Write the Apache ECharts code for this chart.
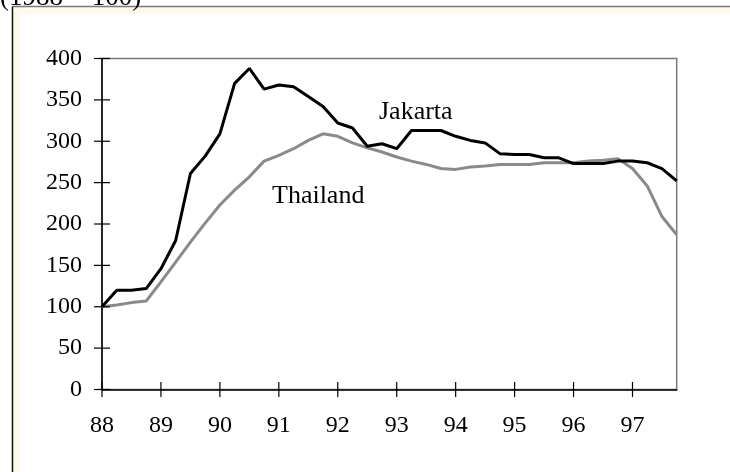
<!DOCTYPE html>
<html>
<head>
<meta charset="utf-8">
<script src="https://cdn.jsdelivr.net/npm/echarts@6/dist/echarts.min.js"></script>
<style>
html,body{margin:0;padding:0;background:#fff;}
#c{width:730px;height:472px;}
</style>
</head>
<body>
<div id="c"></div>
<script>
// Quarterly index, 1988 = 100
const quarters = [];
const years = ['88','89','90','91','92','93','94','95','96','97'];
years.forEach(y => { for (let q = 1; q <= 4; q++) quarters.push(y + 'Q' + q); });

const jakarta = [100,120,120,122,146,180,261,282,309,370,
                 388,363,368,366,354,342,322,316,294,297,
                 291,313,313,313,306,301,298,285,284,284,
                 280,280,273,273,273,276,276,274,267,252];
const thailand = [100,102,105,107,130,154,178,201,223,241,
                  257,276,283,291,301,309,306,298,292,287,
                  281,276,272,267,266,269,270,272,272,272,
                  274,274,274,276,277,279,267,246,209,187];

const yTicks = [0,50,100,150,200,250,300,350,400];
const titleText = '(1988 = 100)';
const seriesNames = ['Jakarta','Thailand'];

const font = '"Liberation Serif","Times New Roman",serif';
const chart = echarts.init(document.getElementById('c'), null, {renderer:'canvas'});

// tick positions taken from the axes themselves (year starts and y tick values)
const xTickData = quarters.map((q, i) => i).filter(i => quarters[i].endsWith('Q1')).map(i => [i, 0]);
const yTickData = yTicks.map(v => [0, v]);

function tickSeries(data, vertical) {
  return {
    type:'custom', data: data, clip:false, silent:true, z:5,
    renderItem: function(params, api) {
      const p = api.coord([api.value(0), api.value(1)]);
      const h = vertical ? 7.5 : 8;
      return {
        type:'line',
        shape: vertical ? {x1:p[0], y1:p[1]-h, x2:p[0], y2:p[1]+h}
                        : {x1:p[0]-h, y1:p[1], x2:p[0]+h, y2:p[1]},
        style:{stroke:'#000', lineWidth:1.2}
      };
    }
  };
}

chart.setOption({
  animation:false,
  backgroundColor:'#ffffff',
  graphic:[
    {type:'rect', shape:{x:12.5,y:6.5,width:740,height:480}, style:{fill:'#fff9ec', stroke:null}, z:-10},
    {type:'rect', shape:{x:20,y:14,width:740,height:480}, style:{fill:'#ffffff'}, z:-9},
    {type:'line', shape:{x1:12.5,y1:6.5,x2:740,y2:6.5}, style:{stroke:'#7a7a7a', lineWidth:1.5}, z:-8},
    {type:'line', shape:{x1:12.5,y1:6.5,x2:12.5,y2:480}, style:{stroke:'#111', lineWidth:1.5}, z:-8},
    {type:'text', x:0, y:-16, style:{text:titleText, font:'27px ' + font, fill:'#000'}},
    {type:'text', x:379, y:99, style:{text:seriesNames[0], font:'26px ' + font, fill:'#000'}},
    {type:'text', x:272, y:183, style:{text:seriesNames[1], font:'26px ' + font, fill:'#000'}}
  ],
  grid:{left:102, top:58.5, right:53.3, bottom:82.5, show:true, borderColor:'#7a7a7a', borderWidth:1.5, backgroundColor:'transparent'},
  xAxis:{type:'category', data: quarters, boundaryGap:false, position:'bottom',
    axisLine:{show:true, lineStyle:{color:'#000', width:1.5}},
    axisTick:{show:false},
    axisLabel:{interval:3, margin:24, fontFamily:font, fontSize:24, color:'#000',
      formatter: v => v.slice(0,2)},
    splitLine:{show:false}
  },
  yAxis:{type:'value', min:yTicks[0], max:yTicks[yTicks.length-1], interval:50, position:'left',
    axisLine:{show:true, lineStyle:{color:'#000', width:1.5}},
    axisTick:{show:false},
    axisLabel:{margin:20, fontFamily:font, fontSize:24, color:'#000'},
    splitLine:{show:false}
  },
  series:[
    {name:seriesNames[1], type:'line', data:thailand,
      symbol:'none', lineStyle:{color:'#8a8a8a', width:3}, z:3},
    {name:seriesNames[0], type:'line', data:jakarta,
      symbol:'none', lineStyle:{color:'#000', width:3}, z:4},
    tickSeries(xTickData, true),
    tickSeries(yTickData, false)
  ]
});
</script>
</body>
</html>
